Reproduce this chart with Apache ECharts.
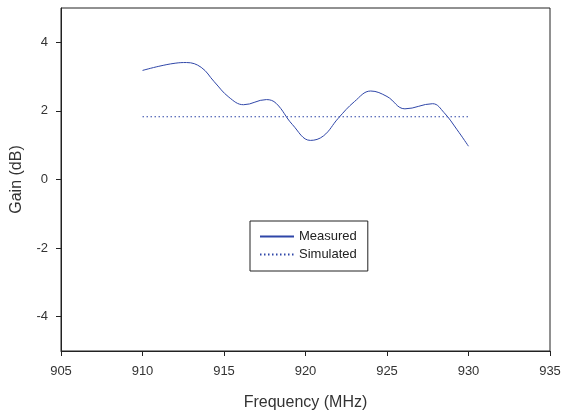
<!DOCTYPE html>
<html><head><meta charset="utf-8">
<script src="https://cdn.jsdelivr.net/npm/echarts@6/dist/echarts.min.js"></script>
<style>html,body{margin:0;padding:0;background:#fff}#c{width:562px;height:411px}</style>
</head><body><div id="c"></div>
<script>
const measuredFreq = [910, 911, 912, 912.7, 913.6, 914.4, 915.3, 916.2, 917.6, 918.2, 919.2, 920.3, 921.1, 922, 923, 924, 925, 926.1, 927.8, 928.5, 929.3, 930];
const measuredGain = [3.18, 3.3, 3.39, 3.41, 3.27, 2.85, 2.4, 2.18, 2.33, 2.22, 1.6, 1.14, 1.27, 1.78, 2.27, 2.58, 2.42, 2.06, 2.21, 1.95, 1.45, 0.97];
const simulatedFreq = [910, 930];
const simulatedGain = [1.83, 1.83];
const xTicks = [905, 910, 915, 920, 925, 930, 935];
const yTicks = [-4, -2, 0, 2, 4];

const font = '"Liberation Sans", Arial, sans-serif';
const chart = echarts.init(document.getElementById('c'), null, {renderer: 'canvas'});
const axisLine = {show: true, onZero: false, lineStyle: {color: '#222', width: 1}};
chart.setOption({
  animation: false,
  grid: {left: 61, right: 12, top: 8, bottom: 60, show: true, borderColor: '#222', borderWidth: 1,
         containLabel: false, outerBoundsMode: 'none'},
  xAxis: {
    type: 'value', min: 905, max: 935, interval: 5,
    name: 'Frequency (MHz)', nameLocation: 'middle', nameGap: 44,
    nameTextStyle: {fontFamily: font, fontSize: 16, color: '#333'},
    axisLine: axisLine,
    axisTick: {show: true, length: 5, lineStyle: {color: '#222'}},
    axisLabel: {fontFamily: font, fontSize: 13, color: '#333', margin: 14},
    splitLine: {show: false}
  },
  yAxis: {
    type: 'value', min: -5, max: 5,
    name: 'Gain (dB)', nameLocation: 'middle', nameGap: 36,
    nameTextStyle: {fontFamily: font, fontSize: 16, color: '#333'},
    axisLine: axisLine,
    axisTick: {show: true, length: 5, lineStyle: {color: '#222'}, customValues: yTicks},
    axisLabel: {fontFamily: font, fontSize: 13, color: '#333', margin: 13, customValues: yTicks},
    splitLine: {show: false}
  },
  legend: {
    left: 250, top: 221, width: 100, orient: 'vertical',
    borderColor: '#222', borderWidth: 1, padding: [9, 11, 10, 9],
    itemWidth: 34, itemHeight: 10, itemGap: 5,
    itemStyle: {color: 'rgba(0,0,0,0)', borderColor: 'rgba(0,0,0,0)', borderWidth: 0},
    textStyle: {fontFamily: font, fontSize: 13, color: '#222'},
    data: ['Measured', 'Simulated']
  },
  series: [
    {name: 'Measured', type: 'line', smooth: 0.4, showSymbol: false, symbol: 'none',
     lineStyle: {color: '#2f46a8', width: 1},
     itemStyle: {color: '#2f46a8'},
     data: measuredFreq.map((f, i) => [f, measuredGain[i]])},
    {name: 'Simulated', type: 'line', showSymbol: false, symbol: 'none',
     lineStyle: {color: '#2f46a8', width: 1.2, type: [1.5, 2.5]},
     itemStyle: {color: '#2f46a8'},
     data: simulatedFreq.map((f, i) => [f, simulatedGain[i]])}
  ]
});
</script></body></html>
